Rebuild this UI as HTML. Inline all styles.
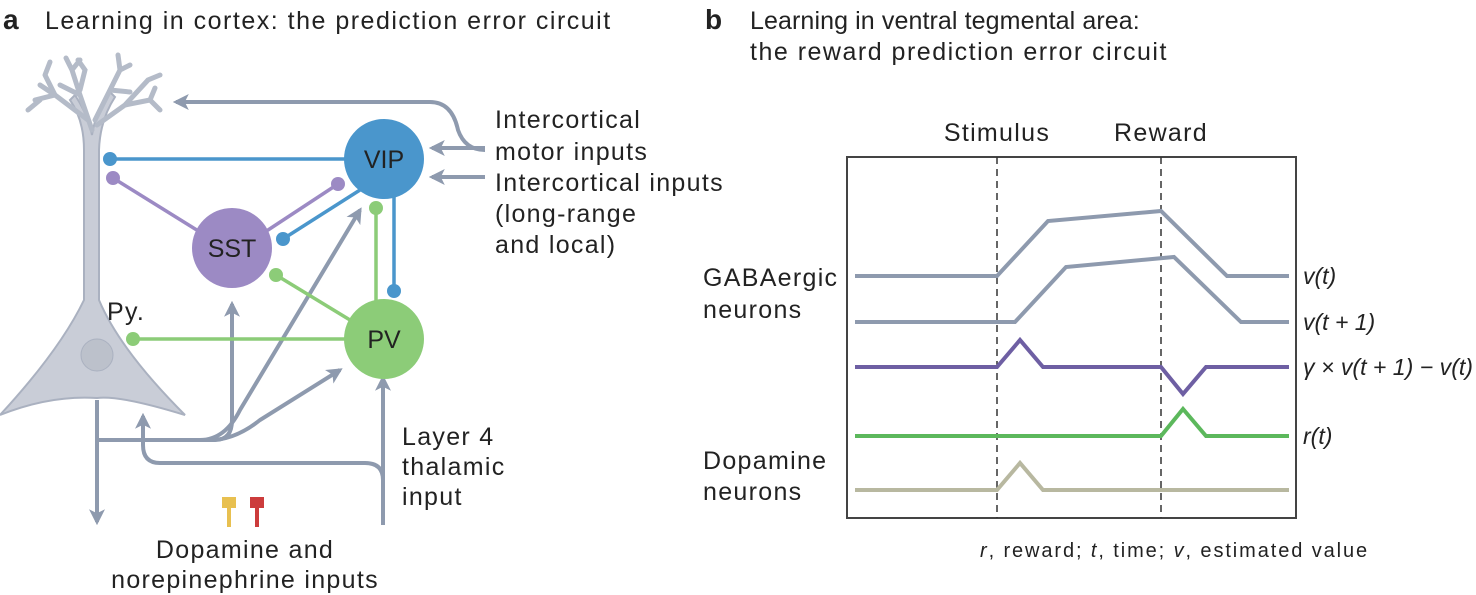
<!DOCTYPE html>
<html><head><meta charset="utf-8"><style>
body{margin:0;background:#fff;}
svg{display:block;font-family:"Liberation Sans",sans-serif;}
</style></head><body>
<svg width="1476" height="595" viewBox="0 0 1476 595" xmlns="http://www.w3.org/2000/svg">
<defs>
<marker id="ah" viewBox="0 0 10 10" refX="8" refY="5" markerWidth="4" markerHeight="4" orient="auto-start-reverse"><path d="M0,0 L10,5 L0,10 L2.5,5 z" fill="#8e9aae"/></marker>
</defs>
<g font-size="25" fill="#222">
<text x="3" y="29" font-weight="bold" font-size="28">a</text>
<text x="45" y="29" letter-spacing="1.5">Learning in cortex: the prediction error circuit</text>
<text x="705" y="29" font-weight="bold" font-size="28">b</text>
<text x="750" y="29" letter-spacing="0.1">Learning in ventral tegmental area:</text>
<text x="750" y="60" letter-spacing="1.5">the reward prediction error circuit</text>
</g>
<!-- neuron -->
<g fill="#c9cdd7" stroke="#aab1c0" stroke-width="2" stroke-linecap="round">
<path d="M84,300 L84,150 Q84,120 70,100 L75,95 Q88,115 92,135 Q96,110 110,92 L115,97 Q100,120 99,150 L99,300 Q120,350 185,415 Q120,395 97,398 Q50,395 0,415 Q60,350 84,300 z"/>
<g fill="none" stroke="#b4bbc8" stroke-width="5">
<path d="M92,130 L80,95 L72,70 M80,95 L60,85 M72,70 L66,58 M72,70 L80,60"/>
<path d="M88,120 L55,95 L35,100 M55,95 L45,75 M40,100 L28,110 M45,75 L50,62"/>
<path d="M95,120 L110,90 L120,70 L118,55 M120,70 L130,65 M110,90 L130,92"/>
<path d="M97,125 L125,105 L150,100 L160,110 M150,100 L155,88 M125,105 L148,80 L160,75"/>
<path d="M80,90 L85,70 L78,60 M55,95 L40,85"/>
</g>
</g>
<circle cx="97" cy="355" r="16" fill="#bcc1cb" stroke="#aab1c0"/>
<!-- gray arrows -->
<g fill="none" stroke="#8e9aae" stroke-width="4">
<path d="M97,400 L97,522" marker-end="url(#ah)"/>
<path d="M97,440 L215,440 Q232,440 232,420 L232,304" marker-end="url(#ah)"/>
<path d="M200,440 Q225,440 240,410 L360,210" marker-end="url(#ah)"/>
<path d="M210,440 Q235,440 260,420 L340,370" marker-end="url(#ah)"/>
<path d="M383,525 L383,378" marker-end="url(#ah)"/>
<path d="M383,480 Q383,463 365,463 L160,463 Q143,463 143,445 L143,416" marker-end="url(#ah)"/>
<path d="M485,150 Q465,150 458,130 Q452,102 430,102 L176,102" marker-end="url(#ah)"/>
<path d="M485,148 L432,148" marker-end="url(#ah)"/>
<path d="M485,177 L432,177" marker-end="url(#ah)"/>
</g>
<!-- connections -->
<g stroke-width="3.5" fill="none">
<line x1="345" y1="159" x2="110" y2="159" stroke="#4a96cc"/>
<line x1="200" y1="232" x2="113" y2="178" stroke="#9c8ac4"/>
<line x1="265" y1="232" x2="338" y2="184" stroke="#9c8ac4"/>
<line x1="360" y1="190" x2="283" y2="239" stroke="#4a96cc"/>
<line x1="376" y1="305" x2="376" y2="208" stroke="#8ccc78"/>
<line x1="394" y1="195" x2="394" y2="291" stroke="#4a96cc"/>
<line x1="350" y1="320" x2="276" y2="275" stroke="#8ccc78"/>
<line x1="345" y1="339" x2="133" y2="339" stroke="#8ccc78"/>
</g>
<g>
<circle cx="110" cy="159" r="7" fill="#4a96cc"/>
<circle cx="113" cy="178" r="7" fill="#9c8ac4"/>
<circle cx="338" cy="184" r="7" fill="#9c8ac4"/>
<circle cx="283" cy="239" r="7" fill="#4a96cc"/>
<circle cx="376" cy="208" r="7" fill="#8ccc78"/>
<circle cx="394" cy="291" r="7" fill="#4a96cc"/>
<circle cx="276" cy="275" r="7" fill="#8ccc78"/>
<circle cx="133" cy="339" r="7" fill="#8ccc78"/>
<circle cx="384" cy="159" r="40" fill="#4a96cc"/>
<circle cx="232" cy="248" r="40" fill="#9c8ac4"/>
<circle cx="384" cy="339" r="40" fill="#8ccc78"/>
</g>
<g font-size="25" fill="#222" text-anchor="middle">
<text x="384" y="168">VIP</text>
<text x="232" y="257">SST</text>
<text x="384" y="348">PV</text>
</g>
<!-- DA/NE markers -->
<rect x="222" y="497" width="14" height="11" fill="#e8c050"/><rect x="227" y="505" width="4" height="22" fill="#e8c050"/>
<rect x="250" y="497" width="14" height="11" fill="#cc3c3c"/><rect x="255" y="505" width="4" height="22" fill="#cc3c3c"/>
<g font-size="25" fill="#222" letter-spacing="1.3">
<text x="495" y="128">Intercortical</text>
<text x="495" y="160">motor inputs</text>
<text x="495" y="191">Intercortical inputs</text>
<text x="495" y="222">(long-range</text>
<text x="495" y="253">and local)</text>
<text x="107" y="320">Py.</text>
<text x="402" y="445">Layer 4</text>
<text x="402" y="475">thalamic</text>
<text x="402" y="505">input</text>
<text x="245" y="558" text-anchor="middle">Dopamine and</text>
<text x="245" y="588" text-anchor="middle">norepinephrine inputs</text>
<text x="997" y="141" text-anchor="middle">Stimulus</text>
<text x="1161" y="141" text-anchor="middle">Reward</text>
<text x="703" y="286">GABAergic</text>
<text x="703" y="318">neurons</text>
<text x="703" y="469">Dopamine</text>
<text x="703" y="500">neurons</text>
</g>
<!-- plot -->
<rect x="847" y="157" width="449" height="361" fill="none" stroke="#444" stroke-width="2"/>
<line x1="997" y1="157" x2="997" y2="518" stroke="#333" stroke-width="1.5" stroke-dasharray="7,5"/>
<line x1="1161" y1="157" x2="1161" y2="518" stroke="#333" stroke-width="1.5" stroke-dasharray="7,5"/>
<g fill="none" stroke-width="4" stroke-linejoin="miter">
<polyline points="855,276 997,276 1048,221 1161,211 1227,276 1289,276" stroke="#8e9aae"/>
<polyline points="855,322 1015,322 1066,267 1174,257 1241,322 1289,322" stroke="#8e9aae"/>
<polyline points="855,367 997,367 1020,340 1043,367 1161,367 1183,394 1206,367 1289,367" stroke="#6e5fa3"/>
<polyline points="855,436 1161,436 1183,409 1206,436 1289,436" stroke="#5cb85c"/>
<polyline points="855,490 997,490 1020,463 1043,490 1289,490" stroke="#b8b8a0"/>
</g>
<g font-size="23" fill="#222" font-style="italic">
<text x="1303" y="284">v(t)</text>
<text x="1303" y="330">v(t + 1)</text>
<text x="1303" y="375" textLength="170" lengthAdjust="spacingAndGlyphs">γ × v(t + 1) − v(t)</text>
<text x="1303" y="444">r(t)</text>
</g>
<text x="980" y="557" font-size="20" fill="#222" letter-spacing="1.9"><tspan font-style="italic">r</tspan>, reward; <tspan font-style="italic">t</tspan>, time; <tspan font-style="italic">v</tspan>, estimated value</text>
</svg>
</body></html>
